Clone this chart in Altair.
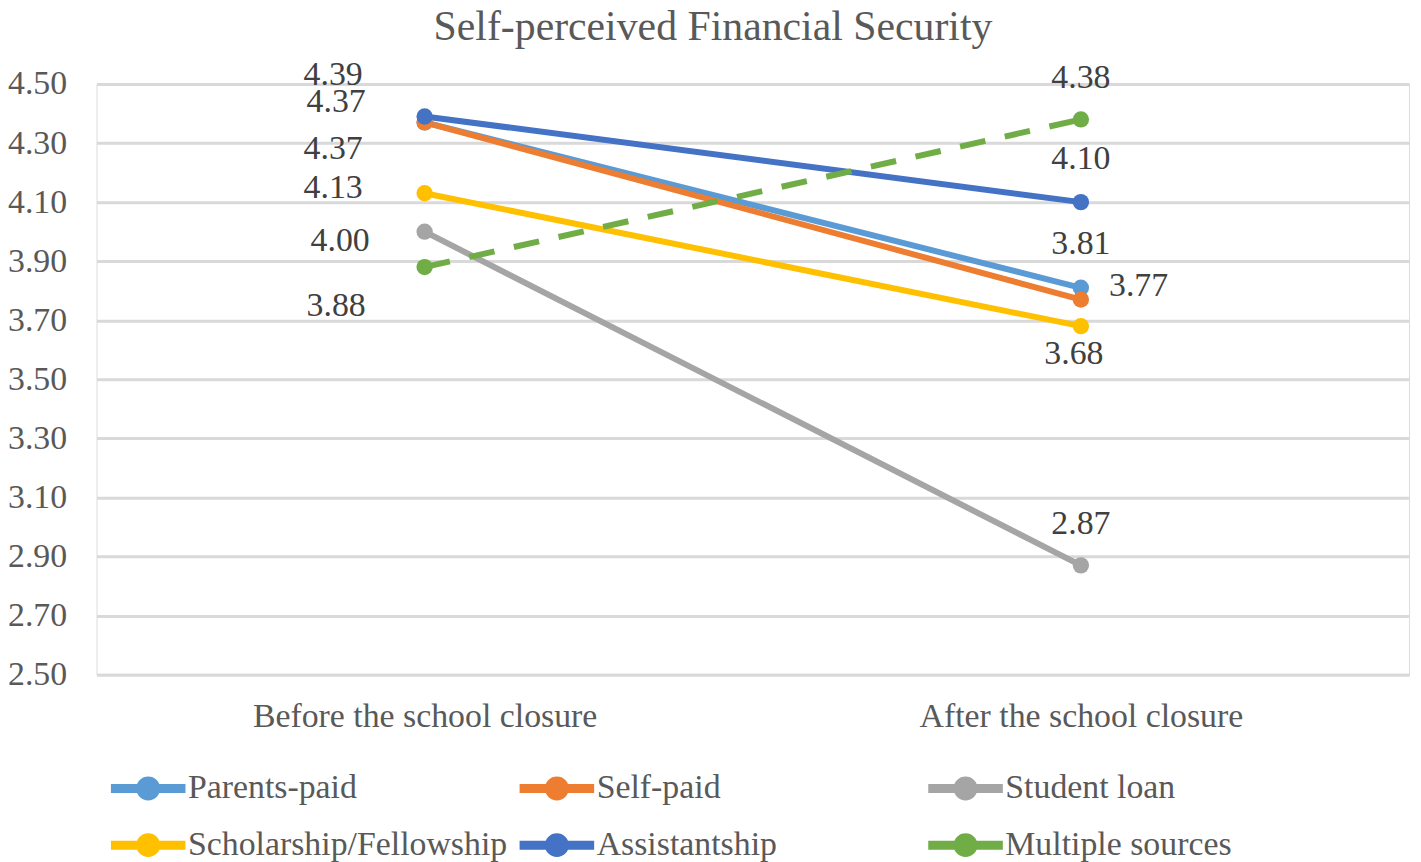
import altair as alt
import pandas as pd

title_text = "Self-perceived Financial Security"
periods = ["Before the school closure", "After the school closure"]
series = ["Parents-paid", "Self-paid", "Student loan",
          "Scholarship/Fellowship", "Assistantship", "Multiple sources"]
before = [4.37, 4.37, 4.00, 4.13, 4.39, 3.88]
after = [3.81, 3.77, 2.87, 3.68, 4.10, 4.38]
colors = ["#5B9BD5", "#ED7D31", "#A5A5A5", "#FFC000", "#4472C4", "#70AD47"]
y_ticks = [2.50, 2.70, 2.90, 3.10, 3.30, 3.50, 3.70, 3.90, 4.10, 4.30, 4.50]
dashed_series = "Multiple sources"

rows = []
for s, b, a in zip(series, before, after):
    rows.append({"series": s, "period": periods[0], "value": b})
    rows.append({"series": s, "period": periods[1], "value": a})
df = pd.DataFrame(rows)

FONT = "Liberation Serif"

# label placement (pixel offsets from the point): style, not data
label_offsets = {
    ("Assistantship", 0): (-92, -42),
    ("Parents-paid", 0): (-89, -20),
    ("Self-paid", 0): (-92, 27),
    ("Scholarship/Fellowship", 0): (-92, -5),
    ("Student loan", 0): (-85, 9),
    ("Multiple sources", 0): (-89, 39),
    ("Multiple sources", 1): (0, -42),
    ("Assistantship", 1): (0, -43),
    ("Parents-paid", 1): (0, -44),
    ("Self-paid", 1): (58, -14),
    ("Scholarship/Fellowship", 1): (-7, 28),
    ("Student loan", 1): (0, -42),
}

x_enc = alt.X("period:N", sort=periods,
              scale=alt.Scale(type="point", padding=0.5, domain=periods),
              axis=alt.Axis(title=None, labelAngle=0, ticks=False, domain=True,
                            domainColor="#d9d9d9", domainWidth=3, labelLimit=800,
                            labelFont=FONT, labelFontSize=34, labelColor="#595959",
                            labelPadding=25, grid=False))
y_enc = alt.Y("value:Q",
              scale=alt.Scale(domain=[2.5, 4.5], zero=False, nice=False),
              axis=alt.Axis(title=None, values=y_ticks, format=".2f", ticks=False,
                            domain=False, grid=True, gridColor="#d9d9d9", gridWidth=3,
                            labelFont=FONT, labelFontSize=34, labelColor="#595959",
                            labelPadding=30))

color_scale = alt.Scale(domain=series, range=colors)

legend_path = ("M-1.875,0L1.875,0"
               "M-0.375,0A0.375,0.375 0 1,1 0.375,0A0.375,0.375 0 1,1 -0.375,0"
               "M-0.1,0A0.1,0.1 0 1,1 0.1,0A0.1,0.1 0 1,1 -0.1,0")

base = alt.Chart(df)

solid_lines = base.transform_filter(
    alt.datum.series != dashed_series
).mark_line(strokeWidth=6).encode(
    x=x_enc, y=y_enc,
    color=alt.Color("series:N", scale=color_scale, sort=series,
                    legend=alt.Legend(title=None, orient="none", legendX=27.5, legendY=684,
                                      direction="horizontal", columns=3, gridAlign="all",
                                      columnPadding=-6, rowPadding=6,
                                      symbolType=legend_path, symbolSize=1600,
                                      symbolStrokeWidth=9, labelFont=FONT,
                                      labelFontSize=34, labelColor="#595959",
                                      labelOffset=15.5, labelLimit=600, padding=0)),
)

dashed_line = base.transform_filter(
    alt.datum.series == dashed_series
).mark_line(strokeWidth=6, strokeDash=[26, 20], color=colors[series.index(dashed_series)]).encode(
    x=x_enc, y=y_enc,
)

points = base.mark_circle(size=270, opacity=1).encode(
    x=x_enc, y=y_enc,
    color=alt.Color("series:N", scale=color_scale, legend=None),
)

texts = []
for (s, pi), (dx, dy) in label_offsets.items():
    p = periods[pi]
    t = base.transform_filter(
        (alt.datum.series == s) & (alt.datum.period == p)
    ).mark_text(dx=dx, dy=dy, font=FONT, fontSize=34, color="#404040",
                align="center", baseline="middle").encode(
        x=x_enc, y=y_enc, text=alt.Text("value:Q", format=".2f"))
    texts.append(t)

title_layer = alt.Chart(alt.Data(values=[{"t": title_text}])).mark_text(
    font=FONT, fontSize=42, color="#595959", align="center", baseline="middle"
).encode(x=alt.value(620), y=alt.value(-57), text="t:N")

chart = alt.layer(solid_lines, dashed_line, points, *texts, title_layer).properties(
    width=1320, height=594,
    autosize=alt.AutoSizeParams(type="none"),
    padding={"left": 89, "top": 74, "right": 4, "bottom": 186},
).configure_view(stroke=None).configure(background="white")

chart.save("out.html", embed_options={"renderer": "svg", "actions": False})
